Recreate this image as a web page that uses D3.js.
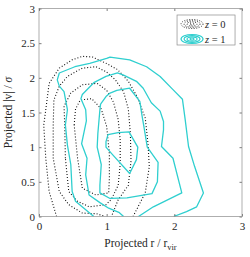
<!DOCTYPE html>
<html>
<head>
<meta charset="utf-8">
<script src="https://cdn.jsdelivr.net/npm/d3@7"></script>
<style>
  body { margin: 0; background: #fff; }
  text { font-family: "Liberation Serif", "DejaVu Serif", serif; fill: #262626; }
</style>
</head>
<body>
<div id="chart"></div>
<script>
// tick values
var xTicks = [0, 1, 2, 3];
var yTicks = [0, 0.5, 1, 1.5, 2, 2.5, 3];

// z = 0 contours (dotted), outer to inner
var d1 = [[0.26,0],[0.15,0.36],[0.10,0.84],[0.07,1.32],[0.10,1.54],[0.15,1.92],[0.30,2.14],[0.49,2.26],[0.64,2.31],[0.79,2.30],[0.99,2.21],[1.16,2.12],[1.32,1.95],[1.45,1.73],[1.57,1.42],[1.61,1.06],[1.63,0.72],[1.57,0.34],[1.39,0]];
var d2 = [[0.95,0.01],[0.85,0.04],[0.64,0.05],[0.44,0.17],[0.30,0.36],[0.21,0.84],[0.21,1.32],[0.22,1.68],[0.30,1.88],[0.42,2.02],[0.64,2.14],[0.84,2.16],[0.99,2.09],[1.13,1.97],[1.25,1.80],[1.32,1.55],[1.35,1.2],[1.36,0.8],[1.32,0.45],[1.17,0.24],[1.07,0]];
var d3c = [[0.39,0.84],[0.38,1.32],[0.37,1.59],[0.47,1.78],[0.64,1.90],[0.86,1.92],[1.0,1.82],[1.1,1.65],[1.17,1.4],[1.2,1.1],[1.2,0.75],[1.17,0.45],[1.07,0.25],[0.99,0.17],[0.74,0.14],[0.57,0.22],[0.44,0.36],[0.39,0.84]];
var d4 = [[0.52,1.32],[0.54,1.55],[0.61,1.68],[0.78,1.70],[0.92,1.55],[1.0,1.3],[1.04,0.9],[1.04,0.55],[1.03,0.34],[0.84,0.31],[0.64,0.41],[0.57,0.84],[0.52,1.32]];

// z = 1 contours (cyan), outer to inner
var c1 = [[0.81,0],[0.54,0.22],[0.49,0.36],[0.47,0.75],[0.42,1.03],[0.39,1.32],[0.42,1.54],[0.37,1.80],[0.30,1.88],[0.27,1.97],[0.30,2.07],[0.53,2.16],[0.75,2.21],[1.0,2.28],[1.05,2.30],[1.34,2.26],[1.59,2.16],[1.79,2.02],[1.98,1.83],[2.12,1.69],[2.16,1.40],[2.21,1.01],[2.30,0.72],[2.43,0.34],[2.33,0.14],[2.18,0.07],[1.99,0]];
var c2 = [[1.25,0],[1.18,0.06],[1.03,0.12],[0.9,0.2],[0.74,0.31],[0.69,0.6],[0.71,0.84],[0.63,1.05],[0.70,1.38],[0.69,1.54],[0.62,1.70],[0.64,1.76],[0.81,1.93],[0.99,2.02],[1.16,2.07],[1.25,2.04],[1.44,1.95],[1.54,1.85],[1.66,1.64],[1.79,1.52],[1.84,1.37],[1.84,1.25],[1.81,1.01],[1.98,0.84],[2.11,0.34],[1.69,0.14],[1.47,0]];
var c3 = [[0.91,1.62],[0.90,1.54],[0.87,1.2],[0.86,1.0],[0.92,0.75],[0.90,0.45],[0.90,0.34],[1.05,0.26],[1.30,0.27],[1.67,0.33],[1.75,0.5],[1.76,0.78],[1.60,1.0],[1.55,1.30],[1.52,1.47],[1.49,1.66],[1.34,1.85],[1.15,1.82],[1.05,1.78],[0.99,1.73],[0.91,1.62]];
var c4 = [[0.99,1.08],[1.02,1.18],[1.17,1.21],[1.33,1.22],[1.46,1.0],[1.44,0.82],[1.34,0.62],[1.08,0.9],[0.99,1.0],[0.99,1.08]];

var legendLabels = ["0", "1"];

var cyan = "#2fcfcf";

var margin = { top: 8.5, right: 8, bottom: 40.5, left: 39 },
  width = 250 - margin.left - margin.right,
  height = 257 - margin.top - margin.bottom;

var svg = d3.select("#chart")
  .append("svg")
  .attr("width", 250)
  .attr("height", 257)
  .append("g")
  .attr("transform", "translate(" + margin.left + "," + margin.top + ")");

var x = d3.scaleLinear().domain([0, 3]).range([0, width]);
var y = d3.scaleLinear().domain([0, 3]).range([height, 0]);

svg.append("defs").append("clipPath").attr("id", "clip")
  .append("rect").attr("width", width).attr("height", height);

var line = d3.line()
  .x(function (d) { return x(d[0]); })
  .y(function (d) { return y(d[1]); });

var plot = svg.append("g").attr("clip-path", "url(#clip)");

// dotted z=0
plot.selectAll(".z0")
  .data([d1, d2, d3c, d4])
  .enter().append("path")
  .attr("d", line)
  .attr("fill", "none")
  .attr("stroke", "#111")
  .attr("stroke-width", 1.1)
  .attr("stroke-dasharray", "1,2");

// solid z=1
plot.selectAll(".z1")
  .data([c1, c2, c3, c4])
  .enter().append("path")
  .attr("d", line)
  .attr("fill", "none")
  .attr("stroke", cyan)
  .attr("stroke-width", 1.3)
  .attr("stroke-linejoin", "round");

// axes, ticks pointing inward
var axisColor = "#262626";
function styleAxis(g) {
  g.select(".domain").remove();
  g.selectAll("line").attr("stroke", axisColor).attr("stroke-width", 0.6);
  g.selectAll("text").style("font-family", "Liberation Serif").style("font-size", "11px").attr("fill", axisColor);
}
svg.append("g")
  .attr("transform", "translate(0," + height + ")")
  .call(d3.axisBottom(x).tickValues(xTicks).tickFormat(d3.format("")).tickSizeInner(-2.5).tickPadding(6).tickSizeOuter(0))
  .call(styleAxis);
svg.append("g")
  .call(d3.axisTop(x).tickValues(xTicks).tickFormat("").tickSizeInner(-2.5).tickSizeOuter(0))
  .call(styleAxis);
svg.append("g")
  .call(d3.axisLeft(y).tickValues(yTicks).tickFormat(d3.format("")).tickSizeInner(-2.5).tickPadding(4).tickSizeOuter(0))
  .call(styleAxis);
svg.append("g")
  .attr("transform", "translate(" + width + ",0)")
  .call(d3.axisRight(y).tickValues(yTicks).tickFormat("").tickSizeInner(-2.5).tickSizeOuter(0))
  .call(styleAxis);

// box
svg.append("rect")
  .attr("width", width).attr("height", height)
  .attr("fill", "none").attr("stroke", "#8c8c8c").attr("stroke-width", 0.7);

// axis labels
var xl = svg.append("text")
  .attr("x", width / 2).attr("y", height + 30)
  .attr("text-anchor", "middle")
  .style("font-size", "11.5px");
xl.append("tspan").text("Projected r / r");
xl.append("tspan").attr("dy", 3.5).style("font-size", "8.5px").text("vir");

var yl = svg.append("text")
  .attr("transform", "translate(" + (-27) + "," + (height / 2) + ") rotate(-90)")
  .attr("text-anchor", "middle")
  .style("font-size", "11.5px");
yl.append("tspan").text("Projected |v| / ");
yl.append("tspan").style("font-style", "italic").text("σ");

// legend
var lg = svg.append("g").attr("transform", "translate(" + (x(2.04)) + "," + 6.5 + ")");
lg.append("rect")
  .attr("width", 58).attr("height", 30)
  .attr("fill", "#fff").attr("stroke", "#8c8c8c").attr("stroke-width", 0.7);

var ringSizes = [[11, 4.5], [8, 3.3], [5, 2.1], [2, 1]];
var entries = lg.selectAll(".entry")
  .data(legendLabels)
  .enter().append("g")
  .attr("transform", function (d, i) { return "translate(0," + (9 + i * 15) + ")"; });

entries.each(function (d, i) {
  var g = d3.select(this);
  g.selectAll("ellipse")
    .data(ringSizes)
    .enter().append("ellipse")
    .attr("cx", 15).attr("cy", 0)
    .attr("rx", function (r) { return r[0]; })
    .attr("ry", function (r) { return r[1]; })
    .attr("fill", "none")
    .attr("stroke", i === 0 ? "#111" : cyan)
    .attr("stroke-width", i === 0 ? 0.9 : 1.2)
    .attr("stroke-dasharray", i === 0 ? "1,1.5" : null);
  var t = g.append("text").attr("x", 28).attr("y", 3.5).style("font-size", "10.5px");
  t.append("tspan").style("font-style", "italic").text("z");
  t.append("tspan").text(" = " + d);
});
</script>
</body>
</html>
